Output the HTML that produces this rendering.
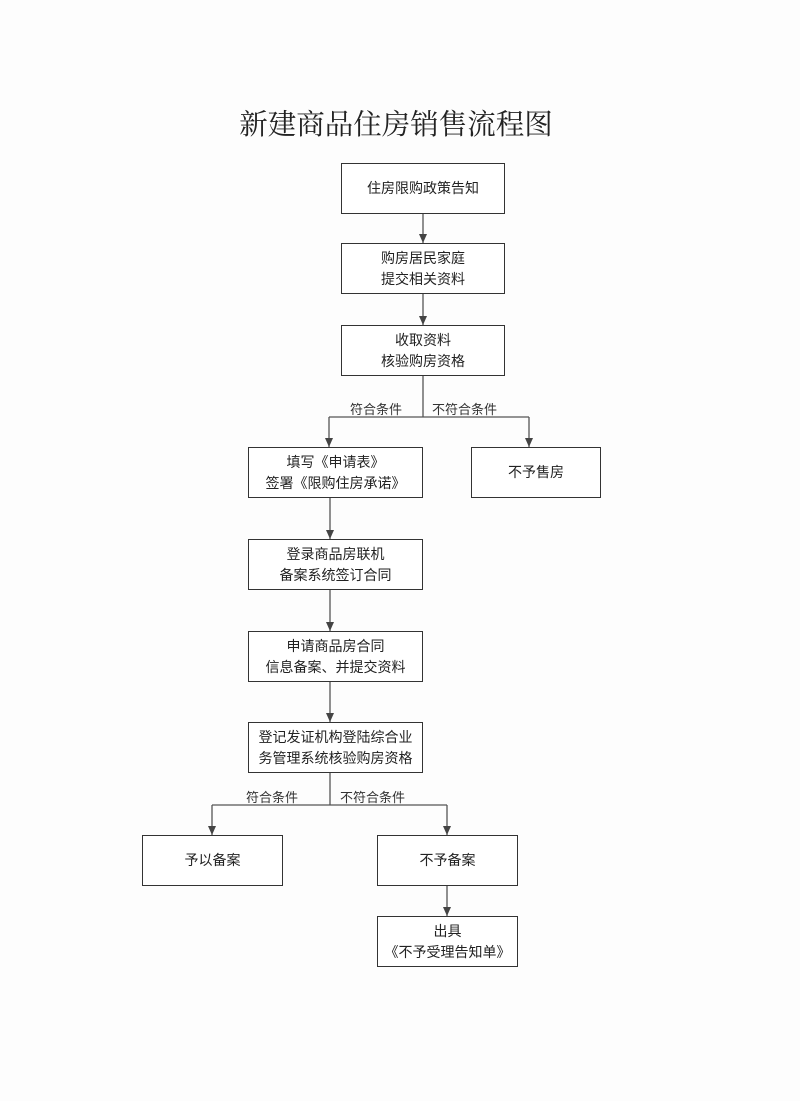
<!DOCTYPE html>
<html><head><meta charset="utf-8"><style>
body{margin:0;width:800px;height:1101px;background:#fdfdfd;position:relative;overflow:hidden;font-family:"Liberation Sans","Noto Sans CJK SC",sans-serif;color:#222}
.b{position:absolute;border:1.5px solid #333;box-sizing:border-box;display:flex;align-items:center;justify-content:center;text-align:center;font-size:14px;line-height:21px;background:#fff}
.t{position:absolute;font-size:13px;line-height:14px;color:#333}
</style></head><body>
<div style="position:absolute;left:0;width:792px;top:102px;text-align:center;font-family:'Noto Serif CJK SC',serif;font-size:28.5px;color:#222">新建商品住房销售流程图</div>
<svg width="800" height="1101" style="position:absolute;left:0;top:0">
<defs><marker id="a" markerWidth="9" markerHeight="9" refX="9" refY="4" orient="auto" markerUnits="userSpaceOnUse"><path d="M0,0 L9,4 L0,8 z" fill="#444"/></marker></defs>
<g stroke="#555" stroke-width="1.3" fill="none">
<line x1="423" y1="213" x2="423" y2="243" marker-end="url(#a)"/>
<line x1="423" y1="294" x2="423" y2="325" marker-end="url(#a)"/>
<line x1="423" y1="376" x2="423" y2="417"/>
<line x1="329" y1="417" x2="529" y2="417"/>
<line x1="329" y1="417" x2="329" y2="447" marker-end="url(#a)"/>
<line x1="529" y1="417" x2="529" y2="447" marker-end="url(#a)"/>
<line x1="330" y1="498" x2="330" y2="539" marker-end="url(#a)"/>
<line x1="330" y1="590" x2="330" y2="631" marker-end="url(#a)"/>
<line x1="330" y1="682" x2="330" y2="722" marker-end="url(#a)"/>
<line x1="330" y1="773" x2="330" y2="805"/>
<line x1="212" y1="805" x2="447" y2="805"/>
<line x1="212" y1="805" x2="212" y2="835" marker-end="url(#a)"/>
<line x1="447" y1="805" x2="447" y2="835" marker-end="url(#a)"/>
<line x1="447" y1="885" x2="447" y2="916" marker-end="url(#a)"/>
</g></svg>
<div class="b" style="left:341px;top:163px;width:164px;height:51px">住房限购政策告知</div>
<div class="b" style="left:341px;top:243px;width:164px;height:51px">购房居民家庭<br>提交相关资料</div>
<div class="b" style="left:341px;top:325px;width:164px;height:51px">收取资料<br>核验购房资格</div>
<div class="t" style="left:350px;top:403px">符合条件</div>
<div class="t" style="left:432px;top:403px">不符合条件</div>
<div class="b" style="left:248px;top:447px;width:175px;height:51px">填写《申请表》<br>签署《限购住房承诺》</div>
<div class="b" style="left:471px;top:447px;width:130px;height:51px">不予售房</div>
<div class="b" style="left:248px;top:539px;width:175px;height:51px">登录商品房联机<br>备案系统签订合同</div>
<div class="b" style="left:248px;top:631px;width:175px;height:51px">申请商品房合同<br>信息备案、并提交资料</div>
<div class="b" style="left:248px;top:722px;width:175px;height:51px">登记发证机构登陆综合业<br>务管理系统核验购房资格</div>
<div class="t" style="left:246px;top:791px">符合条件</div>
<div class="t" style="left:340px;top:791px">不符合条件</div>
<div class="b" style="left:142px;top:835px;width:141px;height:51px">予以备案</div>
<div class="b" style="left:377px;top:835px;width:141px;height:51px">不予备案</div>
<div class="b" style="left:377px;top:916px;width:141px;height:51px">出具<br>《不予受理告知单》</div>
</body></html>
